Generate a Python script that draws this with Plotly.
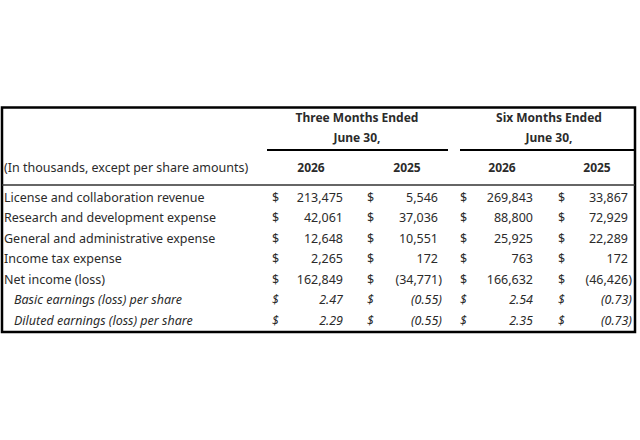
import plotly.graph_objects as go

# Table content
row_labels = [
    "License and collaboration revenue",
    "Research and development expense",
    "General and administrative expense",
    "Income tax expense",
    "Net income (loss)",
    "Basic earnings (loss) per share",
    "Diluted earnings (loss) per share",
]
per_share = [False, False, False, False, False, True, True]

period_titles = ["Three Months Ended", "Six Months Ended"]
period_sub = ["June 30,", "June 30,"]
year_labels = ["2026", "2025", "2026", "2025"]
units_note = "(In thousands, except per share amounts)"

q3_2026 = [213475, 42061, 12648, 2265, 162849, 2.47, 2.29]
q3_2025 = [5546, 37036, 10551, 172, -34771, -0.55, -0.55]
h1_2026 = [269843, 88800, 25925, 763, 166632, 2.54, 2.35]
h1_2025 = [33867, 72929, 22289, 172, -46426, -0.73, -0.73]
columns = [q3_2026, q3_2025, h1_2026, h1_2025]

FONT = "Noto Sans"
TXT = "#2b2b2b"

# layout positions (pixels in a 640x440 frame)
dollar_x = [272, 367, 460, 558]
value_right = [343, 438, 533, 628]
year_x = [311, 407, 502, 597]
period_x = [357, 549]
row_y0, row_dy = 198.5, 20.5
PAREN = 4


def fmt(v, ps):
    s = f"{abs(v):,.2f}" if ps else f"{abs(v):,.0f}"
    return f"({s})" if v < 0 else s


def wrap(s, italic):
    return f"<i>{s}</i>" if italic else s


row_y = [row_y0 + i * row_dy for i in range(len(row_labels))]
body = dict(family=FONT, size=12.5, color=TXT)
head = dict(family=FONT, size=12, color=TXT)

fig = go.Figure()

# row labels
fig.add_trace(go.Scatter(
    x=[14 if p else 4 for p in per_share],
    y=row_y,
    mode="text",
    text=[wrap(l, p) for l, p in zip(row_labels, per_share)],
    textposition="middle right",
    textfont=body,
    cliponaxis=False,
    hoverinfo="skip",
))

for ci, col in enumerate(columns):
    fig.add_trace(go.Scatter(
        x=[dollar_x[ci]] * len(col),
        y=row_y,
        mode="text",
        text=[wrap("$", p) for p in per_share],
        textposition="middle right",
        textfont=body,
        cliponaxis=False,
        hoverinfo="skip",
    ))
    fig.add_trace(go.Scatter(
        x=[value_right[ci] + (PAREN if v < 0 else 0) for v in col],
        y=row_y,
        mode="text",
        text=[wrap(fmt(v, p), p) for v, p in zip(col, per_share)],
        textposition="middle left",
        textfont=body,
        cliponaxis=False,
        hoverinfo="skip",
    ))

# header text
fig.add_trace(go.Scatter(
    x=period_x + period_x + year_x,
    y=[119, 119, 139, 139] + [169] * 4,
    mode="text",
    text=[f"<b>{t}</b>" for t in period_titles + period_sub + year_labels],
    textposition="middle center",
    textfont=head,
    cliponaxis=False,
    hoverinfo="skip",
))
fig.add_trace(go.Scatter(
    x=[4], y=[169],
    mode="text",
    text=[units_note],
    textposition="middle right",
    textfont=body,
    cliponaxis=False,
    hoverinfo="skip",
))

# borders and rules
fig.add_shape(type="rect", x0=2, y0=107.5, x1=635, y1=332,
              line=dict(color="black", width=2.5))
fig.add_shape(type="line", x0=267, y0=150, x1=448, y1=150,
              line=dict(color="black", width=2))
fig.add_shape(type="line", x0=460, y0=150, x1=635, y1=150,
              line=dict(color="black", width=2))
fig.add_shape(type="line", x0=2, y0=185, x1=635, y1=185,
              line=dict(color="#333333", width=1.5))

fig.update_layout(
    width=640, height=440,
    margin=dict(l=0, r=0, t=0, b=0),
    paper_bgcolor="white", plot_bgcolor="white",
    showlegend=False,
)
fig.update_xaxes(range=[0, 640], visible=False, fixedrange=True)
fig.update_yaxes(range=[440, 0], visible=False, fixedrange=True)

# drop the default page margin so the figure sits at the window's corner
fig.write_html("out.html", config=dict(displayModeBar=False),
               post_script="document.body.style.margin='0';")
